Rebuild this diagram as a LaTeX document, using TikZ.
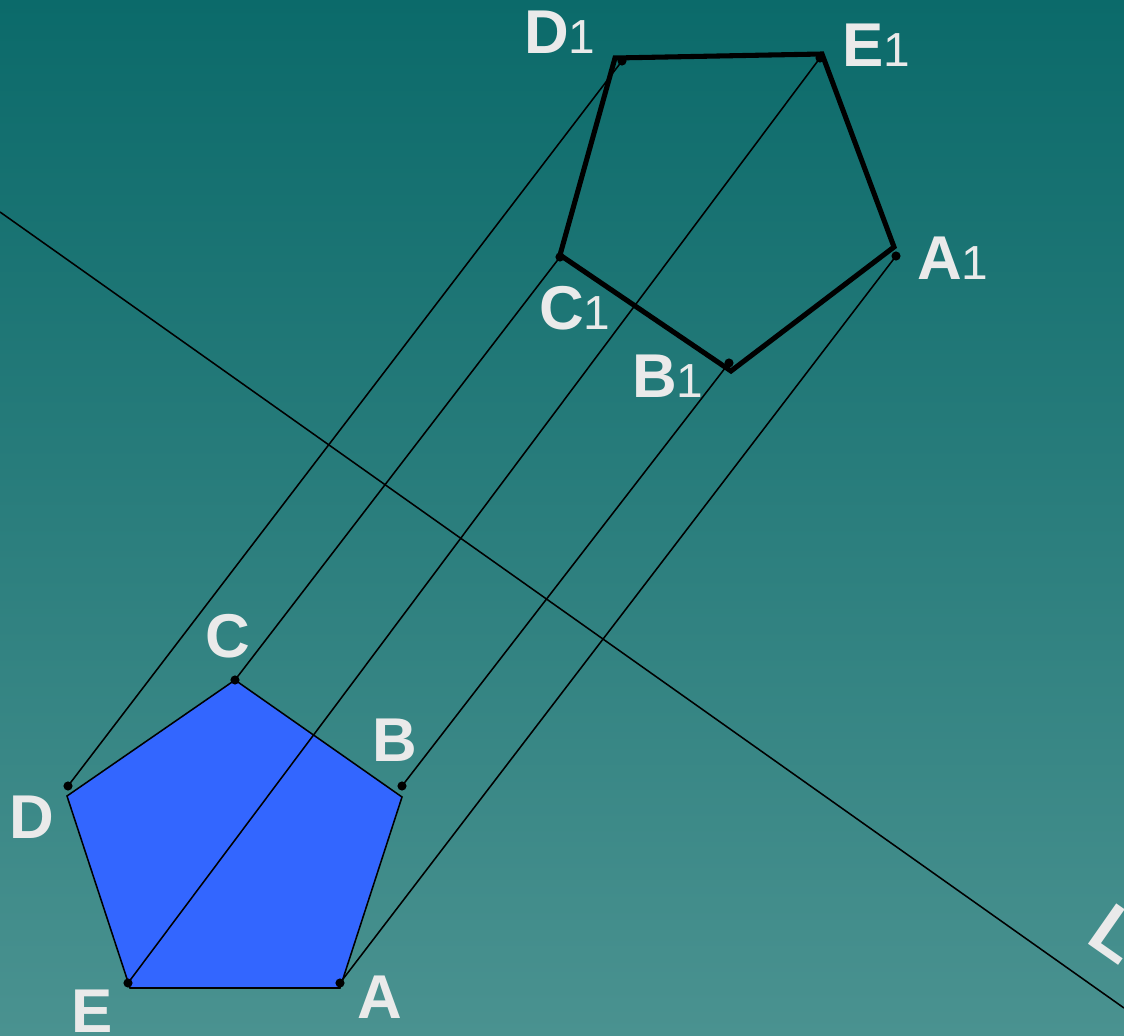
\documentclass[tikz,border=0pt]{standalone}
\usepackage{fontspec}
\setmainfont{Liberation Sans}
\usepackage{xcolor}
\usepackage{tikz}
\usetikzlibrary{arrows.meta, positioning}
\usetikzlibrary{calc}

\definecolor{bgtop}{RGB}{11,106,106}
\definecolor{bgbot}{RGB}{74,146,144}
\definecolor{penta}{RGB}{51,102,255}
\definecolor{lblgray}{RGB}{234,234,234}

\newcommand{\idx}[1]{{\mdseries\fontsize{34pt}{34pt}\selectfont #1}}

\tikzset{
  lbl/.style={text=lblgray, inner sep=0pt, font=\bfseries\fontsize{44pt}{44pt}\selectfont},
  pt/.style={circle, fill=black, inner sep=0pt, minimum size=6.5pt},
  proj/.style={line width=1.1pt},
  img/.style={line width=3.6pt, line join=miter}
}

\begin{document}
\begin{tikzpicture}[x=0.025cm, y=-0.025cm]
        \useasboundingbox (0,0) rectangle (1124,1036);
        \clip (0,0) rectangle (1124,1036);
        \shade[top color=bgtop, bottom color=bgbot] (0,0) rectangle (1124,1036);

        % axis
        \coordinate (l0) at (0,212);
        \coordinate (l1) at (1124,1008);
        \draw[proj] (l0) -- (l1);
        \node[lbl, font=\bfseries\fontsize{51pt}{51pt}\selectfont, rotate=-35, anchor=base west] (lL) at (1084,941) {L};

        % base pentagon
        \coordinate (A) at (340,988);
        \coordinate (B) at (402,797);
        \coordinate (C) at (235,680);
        \coordinate (D) at (67,796);
        \coordinate (E) at (130,988);
        \filldraw[fill=penta, proj] (A) -- (B) -- (C) -- (D) -- (E) -- cycle;

        % image pentagon
        \coordinate (A1) at (894,247);
        \coordinate (B1) at (731,371);
        \coordinate (C1) at (560,255);
        \coordinate (D1) at (615,58);
        \coordinate (E1) at (822,54);
        \draw[img] (A1) -- (B1) -- (C1) -- (D1) -- (E1) -- cycle;

        % points on the pentagons
        \node[pt] (a) at (340,983) {};
        \node[pt] (b) at (402,786) {};
        \node[pt] (c) at (235,680) {};
        \node[pt] (d) at (68,786) {};
        \node[pt] (e) at (128,983) {};
        \node[pt] (a1) at (896,256) {};
        \node[pt] (b1) at (729,363) {};
        \node[pt] (c1) at (560,257) {};
        \node[pt] (d1) at (622,61) {};
        \node[pt] (e1) at (820,58) {};

        % projecting lines
        \draw[proj] (a.center) -- (a1.center);
        \draw[proj] (b.center) -- (b1.center);
        \draw[proj] (c.center) -- (c1.center);
        \draw[proj] (d.center) -- (d1.center);
        \draw[proj] (e.center) -- (e1.center);

        % labels
        \node[lbl] (lA) at (380,997) {A};
        \node[lbl] (lB) at (395,740) {B};
        \node[lbl] (lC) at (228,636) {C};
        \node[lbl] (lD) at (32,817) {D};
        \node[lbl] (lE) at (92,1011) {E};
        \node[lbl, anchor=west] (lA1) at (917,258) {A\idx{1}};
        \node[lbl, anchor=west] (lB1) at (632,376) {B\idx{1}};
        \node[lbl, anchor=west] (lC1) at (539,308) {C\idx{1}};
        \node[lbl, anchor=west] (lD1) at (524,32) {D\idx{1}};
        \node[lbl, anchor=west] (lE1) at (842,45) {E\idx{1}};
    \end{tikzpicture}
\end{document}
